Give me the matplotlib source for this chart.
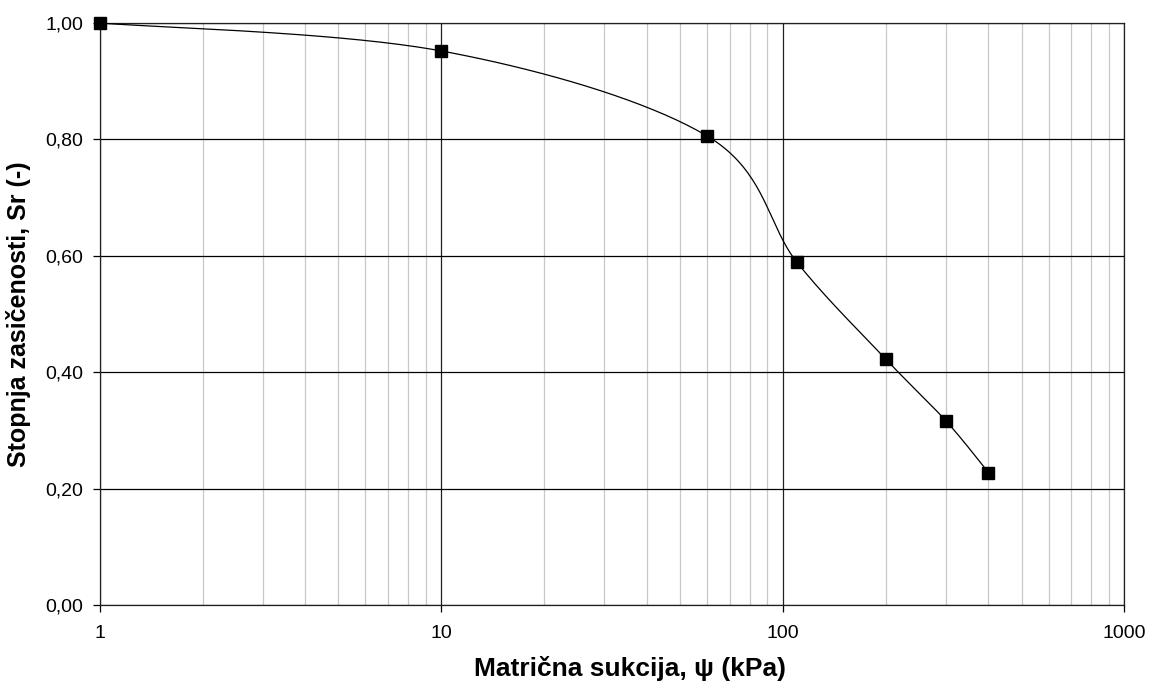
import numpy as np
import matplotlib
matplotlib.use("Agg")
import matplotlib.pyplot as plt
from matplotlib.ticker import FixedLocator, FuncFormatter, LogLocator, NullFormatter

plt.rcParams['font.family'] = ['Liberation Sans', 'DejaVu Sans']

# measured points
suction_kpa = [1, 10, 60, 110, 200, 300, 400]
saturation = [1.00, 0.952, 0.806, 0.589, 0.423, 0.317, 0.228]


def smooth_curve(ax, xs, ys, n=40):
    # Excel-like smoothed line: Catmull-Rom bezier in display space
    pts = ax.transData.transform(np.column_stack([xs, ys]))
    out = [pts[0]]
    m = len(pts)
    for i in range(m - 1):
        p0 = pts[max(i - 1, 0)]
        p1 = pts[i]
        p2 = pts[i + 1]
        p3 = pts[min(i + 2, m - 1)]
        c1 = p1 + (p2 - p0) / 6.0
        c2 = p2 - (p3 - p1) / 6.0
        t = np.linspace(0, 1, n)[1:, None]
        seg = ((1 - t) ** 3) * p1 + 3 * ((1 - t) ** 2) * t * c1 + 3 * (1 - t) * t ** 2 * c2 + t ** 3 * p2
        out.extend(seg)
    out = np.array(out)
    data = ax.transData.inverted().transform(out)
    return data[:, 0], data[:, 1]


fig = plt.figure(figsize=(11.5, 6.84), dpi=100)
ax = fig.add_axes([0.0867, 0.1151, 0.8910, 0.8513])

ax.set_xscale('log')
ax.set_xlim(1, 1000)
ax.set_ylim(0, 1.0)

ax.yaxis.set_major_locator(FixedLocator([0, 0.2, 0.4, 0.6, 0.8, 1.0]))
ax.yaxis.set_major_formatter(FuncFormatter(lambda v, p: f"{v:.2f}".replace('.', ',')))
ax.xaxis.set_major_locator(FixedLocator([1, 10, 100, 1000]))
ax.xaxis.set_major_formatter(FuncFormatter(lambda v, p: f"{int(round(v))}"))
ax.xaxis.set_minor_locator(LogLocator(base=10, subs=np.arange(2, 10)))
ax.xaxis.set_minor_formatter(NullFormatter())

ax.grid(True, which='minor', axis='x', color='#c8c8c8', lw=0.9)
ax.grid(True, which='major', axis='x', color='#202020', lw=0.9)
ax.grid(True, which='major', axis='y', color='#000000', lw=0.9)
ax.set_axisbelow(True)

ax.tick_params(axis='both', which='major', direction='out', length=5, width=0.9,
               labelsize=14, colors='black', pad=7)
ax.tick_params(axis='x', which='major', pad=9)
ax.tick_params(axis='x', which='minor', length=0)

for s in ax.spines.values():
    s.set_color('#202020')
    s.set_linewidth(0.9)

fig.canvas.draw()
cx, cy = smooth_curve(ax, suction_kpa, saturation)
ax.plot(cx, cy, color='black', lw=0.9, zorder=3)
ax.plot(suction_kpa, saturation, ls='none', marker='s', ms=8, color='black', zorder=4,
        clip_on=False)

ax.set_xlabel('Matrična sukcija, ψ (kPa)', fontsize=19, fontweight='bold')
ax.xaxis.set_label_coords(0.5176, -0.087)
ax.set_ylabel('Stopnja zasičenosti, Sr (-)', fontsize=18, fontweight='bold', labelpad=10)

fig.savefig('out.png', dpi=100)
